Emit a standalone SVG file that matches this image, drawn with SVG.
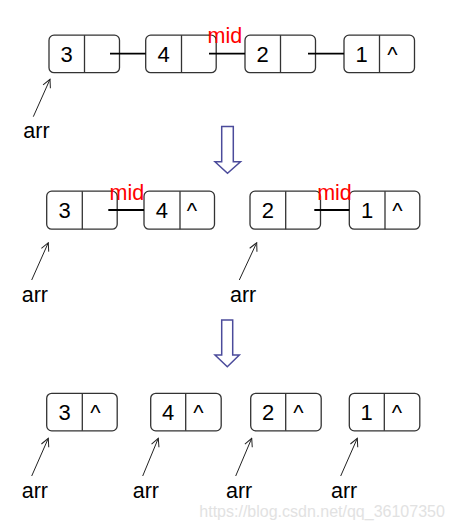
<svg xmlns="http://www.w3.org/2000/svg" width="452" height="530" viewBox="0 0 452 530">
<defs>
<marker id="ah" markerWidth="10" markerHeight="10" refX="9" refY="5" orient="auto" markerUnits="userSpaceOnUse">
<path d="M1,1 L9,5 L1,9" fill="none" stroke="#222" stroke-width="1"/>
</marker>
<style>
.box{fill:#fff;stroke:#333;stroke-width:1.3}
.div{stroke:#333;stroke-width:1.3}
.num{font-family:"Liberation Sans",Arial,sans-serif;font-size:22px;fill:#000;text-anchor:middle}
.lbl{font-family:"Liberation Sans",Arial,sans-serif;font-size:21.5px;fill:#000}
.mid{font-family:"Liberation Sans",Arial,sans-serif;font-size:21.5px;fill:#ff0000}
.link{stroke:#000;stroke-width:1.8}
.ptr{stroke:#222;stroke-width:1;fill:none;marker-end:url(#ah)}
.big{fill:#fff;stroke:#4b4b9b;stroke-width:1.5}
.wm{font-family:"Liberation Sans",Arial,sans-serif;font-size:16px;fill:#e2e2e2}
</style>
</defs>
<g id="r1n1"><rect class="box" x="49" y="35.2" width="70.5" height="37.5" rx="5"/><line class="div" x1="84.5" y1="35.2" x2="84.5" y2="72.7"/><text class="num" x="66.7" y="61.5">3</text></g>
<g id="r1n2"><rect class="box" x="145.7" y="35.2" width="70.5" height="37.5" rx="5"/><line class="div" x1="181.5" y1="35.2" x2="181.5" y2="72.7"/><text class="num" x="163.5" y="61.5">4</text></g>
<g id="r1n3"><rect class="box" x="245" y="35.2" width="70.5" height="37.5" rx="5"/><line class="div" x1="280.5" y1="35.2" x2="280.5" y2="72.7"/><text class="num" x="262.7" y="61.5">2</text></g>
<g id="r1n4"><rect class="box" x="344" y="35.2" width="70.5" height="37.5" rx="5"/><line class="div" x1="379.5" y1="35.2" x2="379.5" y2="72.7"/><text class="num" x="361.7" y="61.5">1</text><text class="num" x="392.5" y="61.5">^</text></g>
<text class="mid" x="207.5" y="43">mid</text>
<text class="lbl" x="23.3" y="138.3">arr</text>
<g id="r2n1"><rect class="box" x="46.7" y="191.2" width="70.5" height="38" rx="5"/><line class="div" x1="82.3" y1="191.2" x2="82.3" y2="229.2"/><text class="num" x="64.5" y="217.5">3</text></g>
<g id="r2n2"><rect class="box" x="144" y="191.2" width="70.5" height="38" rx="5"/><line class="div" x1="180" y1="191.2" x2="180" y2="229.2"/><text class="num" x="161.8" y="217.5">4</text><text class="num" x="192" y="217.5">^</text></g>
<g id="r2n3"><rect class="box" x="250" y="191.2" width="70.5" height="38" rx="5"/><line class="div" x1="285.7" y1="191.2" x2="285.7" y2="229.2"/><text class="num" x="267.8" y="217.5">2</text></g>
<g id="r2n4"><rect class="box" x="349.3" y="191.2" width="70.5" height="38" rx="5"/><line class="div" x1="385" y1="191.2" x2="385" y2="229.2"/><text class="num" x="367" y="217.5">1</text><text class="num" x="397.3" y="217.5">^</text></g>
<text class="mid" x="109.5" y="200">mid</text>
<text class="mid" x="317.2" y="200">mid</text>
<text class="lbl" x="21.7" y="301.7">arr</text>
<text class="lbl" x="230" y="301.7">arr</text>
<g id="r3n1"><rect class="box" x="46.7" y="393.3" width="70.5" height="37.5" rx="5"/><line class="div" x1="82.3" y1="393.3" x2="82.3" y2="430.8"/><text class="num" x="64.5" y="419.5">3</text><text class="num" x="95.5" y="419.5">^</text></g>
<g id="r3n2"><rect class="box" x="150.7" y="393.3" width="70.5" height="37.5" rx="5"/><line class="div" x1="185.7" y1="393.3" x2="185.7" y2="430.8"/><text class="num" x="168" y="419.5">4</text><text class="num" x="198.5" y="419.5">^</text></g>
<g id="r3n3"><rect class="box" x="250.7" y="393.3" width="70.5" height="37.5" rx="5"/><line class="div" x1="285.7" y1="393.3" x2="285.7" y2="430.8"/><text class="num" x="268" y="419.5">2</text><text class="num" x="298.5" y="419.5">^</text></g>
<g id="r3n4"><rect class="box" x="349.3" y="393.3" width="70.5" height="37.5" rx="5"/><line class="div" x1="384.3" y1="393.3" x2="384.3" y2="430.8"/><text class="num" x="366.7" y="419.5">1</text><text class="num" x="397" y="419.5">^</text></g>
<text class="lbl" x="21.7" y="498.3">arr</text>
<text class="lbl" x="132.7" y="498.3">arr</text>
<text class="lbl" x="226" y="498.3">arr</text>
<text class="lbl" x="331" y="498.3">arr</text>
<text class="wm" x="199.3" y="516.5">https://blog.csdn.net/qq_36107350</text>
<g id="connectors">
<line class="link" x1="110" y1="53.7" x2="145.7" y2="53.7"/>
<line class="link" x1="209" y1="53.7" x2="245" y2="53.7"/>
<line class="link" x1="308" y1="53.7" x2="344" y2="53.7"/>
<line class="link" x1="108.3" y1="210" x2="144" y2="210"/>
<line class="link" x1="314.3" y1="210" x2="349.3" y2="210"/>
<line class="ptr" x1="33.3" y1="116.7" x2="50" y2="79.3"/>
<line class="ptr" x1="31.7" y1="280" x2="48.3" y2="242.7"/>
<line class="ptr" x1="239.3" y1="280" x2="256.7" y2="242.7"/>
<line class="ptr" x1="31.7" y1="476" x2="48.3" y2="438.3"/>
<line class="ptr" x1="142.7" y1="476" x2="158.3" y2="438.3"/>
<line class="ptr" x1="235.7" y1="476" x2="251.7" y2="438.3"/>
<line class="ptr" x1="340.7" y1="476" x2="357.3" y2="438.3"/>
<path class="big" d="M221.7,126.5 H233.3 V161.7 H240.5 L227.5,173.3 L215,161.7 H221.7 Z"/>
<path class="big" d="M221.7,320 H232.7 V355 H239.3 L227.3,366.7 L215,355 H221.7 Z"/>
</g>
</svg>
